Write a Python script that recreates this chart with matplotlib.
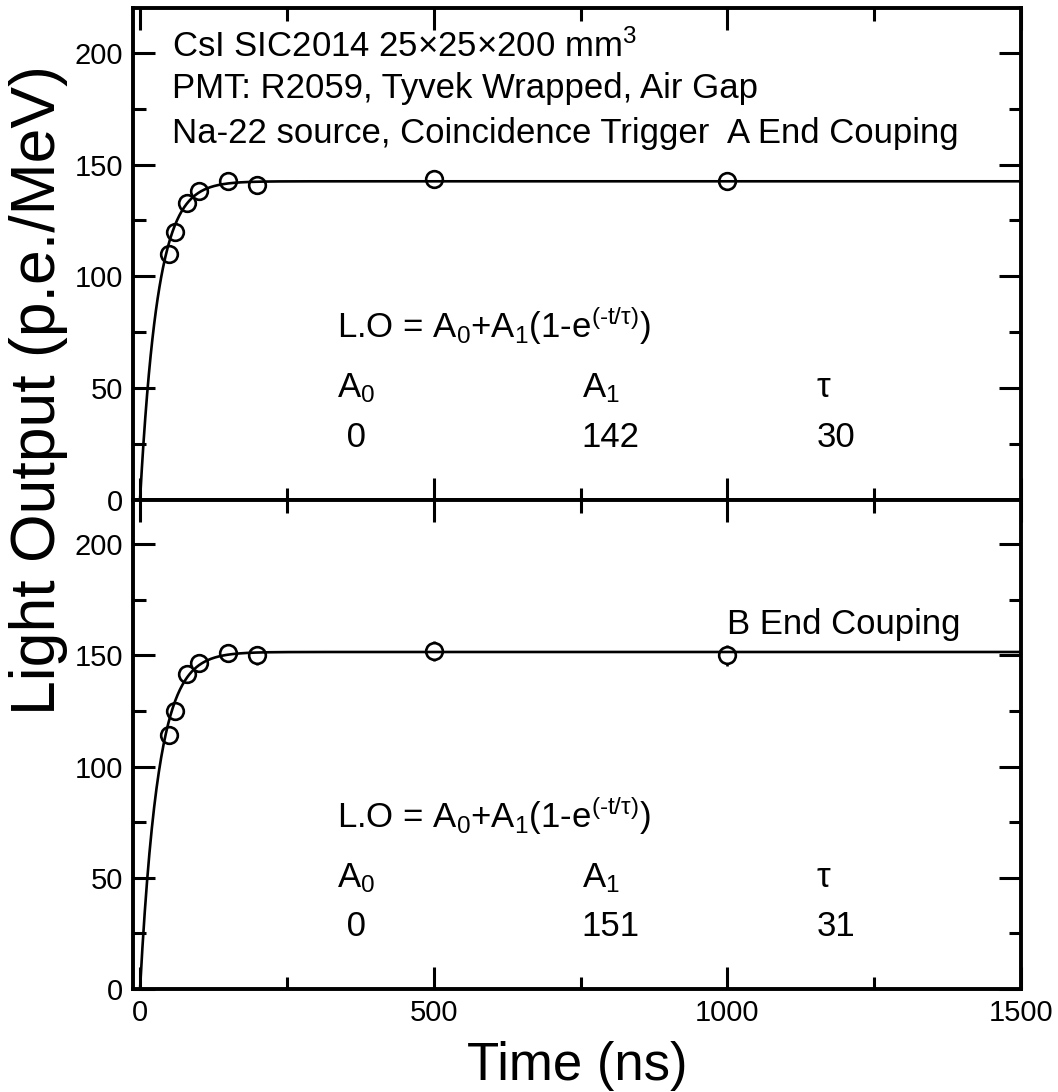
import numpy as np
import matplotlib.pyplot as plt
from matplotlib.ticker import MultipleLocator

plt.rcParams['font.family'] = ['Liberation Sans', 'DejaVu Sans']
plt.rcParams['mathtext.fontset'] = 'custom'
plt.rcParams['mathtext.rm'] = 'Liberation Sans'
plt.rcParams['mathtext.it'] = 'Liberation Sans'
plt.rcParams['mathtext.default'] = 'regular'

# gate width (ns) and measured light output for each coupling end
time_ns = [50, 60, 80, 100, 150, 200, 500, 1000]
lo_a = [110, 120, 133, 138, 142.5, 141, 143.5, 142.5]
err_a = [2, 2, 2, 2, 2, 2, 2, 2]
lo_b = [114, 125, 141.5, 146.5, 151, 150, 152, 150]
err_b = [3, 3, 3, 4, 3.5, 4.2, 4.6, 4.6]

# fit results: L.O = A0 + A1 (1 - exp(-t/tau))
fit_a = {'A0': 0, 'A1': 142.5, 'tau': 30}
fit_b = {'A0': 0, 'A1': 151.5, 'tau': 31}
shown_a = ['0', '142', '30']
shown_b = ['0', '151', '31']

labels = ['A End Couping', 'B End Couping']

fig = plt.figure(figsize=(10.58, 10.92), dpi=100)
ax1 = fig.add_axes([0.1257, 0.5425, 0.8393, 0.4500])
ax2 = fig.add_axes([0.1257, 0.0943, 0.8393, 0.4482], sharex=ax1)

t = np.linspace(0, 1500, 1500)
fs = 25

panels = [(ax1, lo_a, err_a, fit_a, shown_a), (ax2, lo_b, err_b, fit_b, shown_b)]
for i, (ax, lo, err, fit, shown) in enumerate(panels):
    curve = fit['A0'] + fit['A1'] * (1 - np.exp(-t / fit['tau']))
    ax.errorbar(time_ns, lo, yerr=err, fmt='o', mfc='white', mec='black', mew=1.9,
                ms=12, ecolor='black', elinewidth=1.9, capsize=0, zorder=2)
    ax.plot(t, curve, color='black', lw=1.9, zorder=3)
    ax.set_xlim(-12, 1500)
    ax.set_ylim(0, 220)
    ax.yaxis.set_major_locator(MultipleLocator(50))
    ax.yaxis.set_minor_locator(MultipleLocator(25))
    ax.xaxis.set_major_locator(MultipleLocator(500))
    ax.xaxis.set_minor_locator(MultipleLocator(250))
    ax.tick_params(which='both', direction='in', top=True, right=True, width=2.2)
    ax.tick_params(which='major', length=16, labelsize=21, pad=7)
    ax.tick_params(which='minor', length=9)
    for sp in ax.spines.values():
        sp.set_linewidth(2.8)

    ax.text(335, 78, r'L.O = A$_0$+A$_1$(1-e$^{(‐t/τ)}$)', fontsize=fs, va='center')
    ax.text(335, 50, r'A$_0$', fontsize=fs, va='center')
    ax.text(752, 50, r'A$_1$', fontsize=fs, va='center')
    ax.text(1152, 50, 'τ', fontsize=fs, va='center')
    ax.text(335, 28, ' ' + shown[0], fontsize=fs, va='center')
    ax.text(752, 28, shown[1], fontsize=fs, va='center')
    ax.text(1152, 28, shown[2], fontsize=fs, va='center')
    ax.text(1000, 164, labels[i], fontsize=fs, va='center')

ax1.text(54, 203, r'CsI SIC2014 25×25×200 mm$^3$', fontsize=fs, va='center')
ax1.text(54, 184, 'PMT: R2059, Tyvek Wrapped, Air Gap', fontsize=fs, va='center')
ax1.text(54, 164, 'Na-22 source, Coincidence Trigger', fontsize=fs, va='center')

plt.setp(ax1.get_xticklabels(), visible=False)
ax2.set_xlabel('Time (ns)', fontsize=38, labelpad=10)
fig.text(0.036, 0.643, 'Light Output (p.e./MeV)', rotation=90, fontsize=45,
         ha='center', va='center')

fig.savefig('out.png', dpi=100)
